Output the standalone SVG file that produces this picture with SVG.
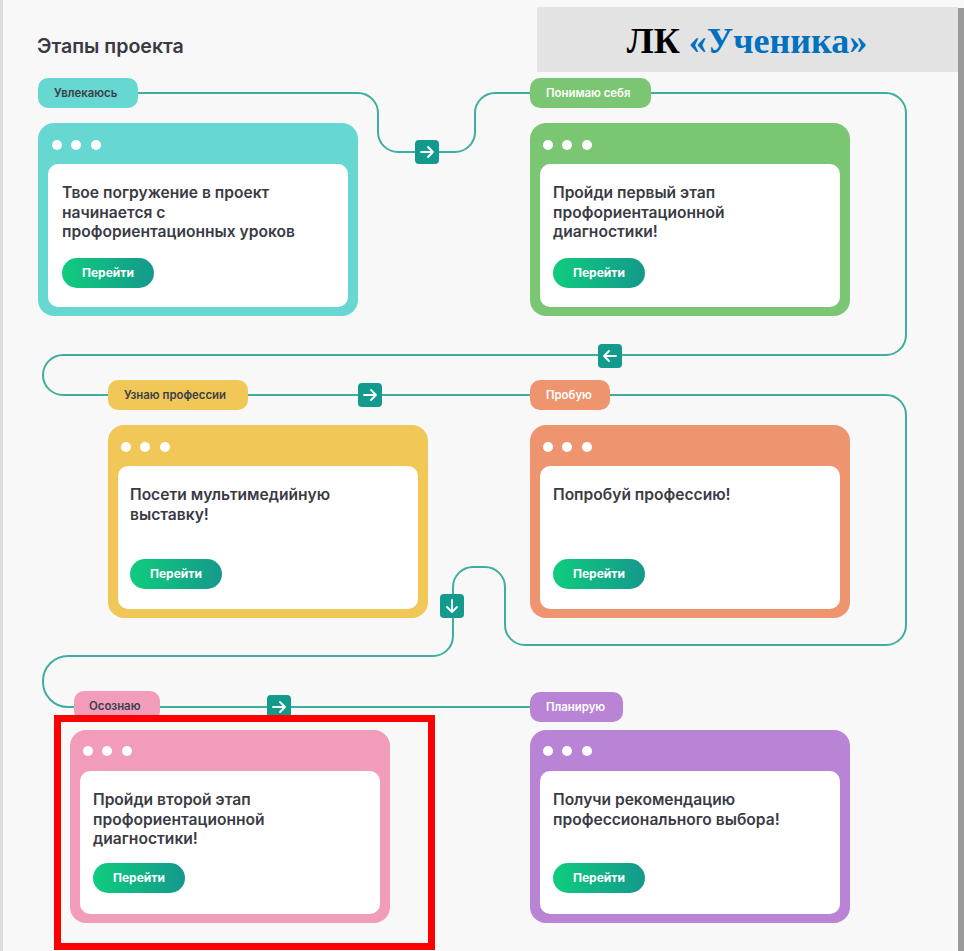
<svg xmlns="http://www.w3.org/2000/svg" width="964" height="951" viewBox="0 0 964 951">
<defs>
<linearGradient id="btn" x1="0" y1="0" x2="1" y2="0">
<stop offset="0" stop-color="#10cc7e"/>
<stop offset="1" stop-color="#14998c"/>
</linearGradient>
<style>
.bg{fill:#f8f8f8}
.title{font-family:Inter,"Noto Sans","Liberation Sans",sans-serif;font-weight:600;font-size:19.6px;fill:#3a3a44}
.hdr{font-family:"Liberation Serif","Times New Roman",serif;font-weight:bold;font-size:36px}
.tag{font-family:Inter,"Noto Sans","Liberation Sans",sans-serif;font-weight:600;font-size:11.4px}
.tdark{fill:#3b4048}
.tlight{fill:#ffffff}
.body{font-family:Inter,"Noto Sans","Liberation Sans",sans-serif;font-weight:600;font-size:15.6px;fill:#3a3a44}
.btxt{font-family:Inter,"Noto Sans","Liberation Sans",sans-serif;font-weight:700;font-size:12px;fill:#ffffff}
.panel{fill:#ffffff}
.dot{fill:#ffffff}
.line{fill:none;stroke:#3fae9f;stroke-width:2}
.abox{fill:#139a8c}
.arr{fill:none;stroke:#ffffff;stroke-width:1.8;stroke-linecap:round;stroke-linejoin:round}
</style>
</defs>
<rect class="bg" x="0" y="0" width="964" height="951"/>
<rect x="0" y="0" width="3" height="951" fill="#dedede"/>
<rect x="958" y="8" width="6" height="943" fill="#9a9a9a"/>

<g id="header">
<rect x="537" y="7" width="421" height="65" fill="#e3e3e3"/>
<text class="hdr" x="747" y="53" text-anchor="middle"><tspan fill="#000000">ЛК </tspan><tspan fill="#0070c0">«Ученика»</tspan></text>
</g>
<text class="title" x="37" y="53">Этапы проекта</text>

<g id="connectors">
<path class="line" d="M138 93 H358 A20 20 0 0 1 378 113 V132 A20 20 0 0 0 398 152 H455 A20 20 0 0 0 475 132 V113 A20 20 0 0 1 495 93 H530"/>
<path class="line" d="M651 93 H886 A20 20 0 0 1 906 113 V335 A20 20 0 0 1 886 355 H63 A20 20 0 0 0 63 395 H108"/>
<path class="line" d="M248 395 H530"/>
<path class="line" d="M610 395 H886 A20 20 0 0 1 906 415 V625 A20 20 0 0 1 886 645 H525 A20 20 0 0 1 505 625 V587 A20 20 0 0 0 485 567 H473 A20 20 0 0 0 453 587 V636 A20 20 0 0 1 433 656 H68 A25 25 0 0 0 43 681 V682 A25 25 0 0 0 68 707 H74"/>
<path class="line" d="M160 707 H530"/>
<g id="arrow1"><rect class="abox" x="415" y="140" width="24" height="24" rx="4"/><path class="arr" d="M421 152 H433 M428 147 L433 152 L428 157"/></g>
<g id="arrow2"><rect class="abox" x="598" y="344" width="24" height="24" rx="4"/><path class="arr" d="M616 356 H604 M609 351 L604 356 L609 361"/></g>
<g id="arrow3"><rect class="abox" x="358" y="383" width="24" height="24" rx="4"/><path class="arr" d="M364 395 H376 M371 390 L376 395 L371 400"/></g>
<g id="arrow4"><rect class="abox" x="440" y="594" width="24" height="24" rx="4"/><path class="arr" d="M452 600 V612 M447 607 L452 612 L457 607"/></g>
<g id="arrow5"><rect class="abox" x="267" y="695" width="24" height="24" rx="4"/><path class="arr" d="M273 707 H285 M280 702 L285 707 L280 712"/></g>
</g>

<g id="tag1"><rect x="38" y="78" width="100" height="30" rx="10" fill="#66d7d1"/><text class="tag tdark" x="54" y="97">Увлекаюсь</text></g>
<g id="tag2"><rect x="530" y="78" width="121" height="30" rx="10" fill="#7bc672"/><text class="tag tlight" x="546" y="97">Понимаю себя</text></g>
<g id="tag3"><rect x="108" y="380" width="140" height="30" rx="10" fill="#f1c757"/><text class="tag tdark" x="124" y="399">Узнаю профессии</text></g>
<g id="tag4"><rect x="530" y="380" width="80" height="30" rx="10" fill="#ee9570"/><text class="tag tlight" x="546" y="399">Пробую</text></g>
<g id="tag5"><rect x="74" y="691" width="86" height="30" rx="10" fill="#f09cba"/><text class="tag tdark" x="89" y="710">Осознаю</text></g>
<g id="tag6"><rect x="530" y="692" width="93" height="30" rx="10" fill="#b983d6"/><text class="tag tlight" x="546" y="711">Планирую</text></g>

<g id="card1">
<rect x="38" y="123" width="320" height="193" rx="16" fill="#66d7d1"/>
<circle class="dot" cx="57" cy="145" r="5"/><circle class="dot" cx="76" cy="145" r="5"/><circle class="dot" cx="96" cy="145" r="5"/>
<rect class="panel" x="48" y="164" width="300" height="143" rx="10"/>
<text class="body" x="62" y="198">Твое погружение в проект</text>
<text class="body" x="62" y="218">начинается с</text>
<text class="body" x="62" y="237">профориентационных уроков</text>
<rect x="62" y="258" width="92" height="30" rx="15" fill="url(#btn)"/>
<text class="btxt" x="108" y="277" text-anchor="middle">Перейти</text>
</g>

<g id="card2">
<rect x="530" y="123" width="320" height="193" rx="16" fill="#7bc672"/>
<circle class="dot" cx="548" cy="145" r="5"/><circle class="dot" cx="567" cy="145" r="5"/><circle class="dot" cx="587" cy="145" r="5"/>
<rect class="panel" x="540" y="164" width="300" height="143" rx="10"/>
<text class="body" x="553" y="198">Пройди первый этап</text>
<text class="body" x="553" y="218">профориентационной</text>
<text class="body" x="553" y="237">диагностики!</text>
<rect x="553" y="258" width="92" height="30" rx="15" fill="url(#btn)"/>
<text class="btxt" x="599" y="277" text-anchor="middle">Перейти</text>
</g>

<g id="card3">
<rect x="108" y="425" width="320" height="193" rx="16" fill="#f1c757"/>
<circle class="dot" cx="126" cy="447" r="5"/><circle class="dot" cx="145" cy="447" r="5"/><circle class="dot" cx="165" cy="447" r="5"/>
<rect class="panel" x="118" y="466" width="300" height="143" rx="10"/>
<text class="body" x="130" y="500">Посети мультимедийную</text>
<text class="body" x="130" y="520">выставку!</text>
<rect x="130" y="559" width="92" height="30" rx="15" fill="url(#btn)"/>
<text class="btxt" x="176" y="578" text-anchor="middle">Перейти</text>
</g>

<g id="card4">
<rect x="530" y="425" width="320" height="193" rx="16" fill="#ee9570"/>
<circle class="dot" cx="548" cy="447" r="5"/><circle class="dot" cx="567" cy="447" r="5"/><circle class="dot" cx="587" cy="447" r="5"/>
<rect class="panel" x="540" y="466" width="300" height="143" rx="10"/>
<text class="body" x="553" y="500">Попробуй профессию!</text>
<rect x="553" y="559" width="92" height="30" rx="15" fill="url(#btn)"/>
<text class="btxt" x="599" y="578" text-anchor="middle">Перейти</text>
</g>

<g id="card5">
<rect x="70" y="730" width="320" height="193" rx="16" fill="#f09cba"/>
<circle class="dot" cx="88" cy="751" r="5"/><circle class="dot" cx="107" cy="751" r="5"/><circle class="dot" cx="127" cy="751" r="5"/>
<rect class="panel" x="80" y="771" width="300" height="143" rx="10"/>
<text class="body" x="93" y="805">Пройди второй этап</text>
<text class="body" x="93" y="825">профориентационной</text>
<text class="body" x="93" y="844">диагностики!</text>
<rect x="93" y="863" width="92" height="30" rx="15" fill="url(#btn)"/>
<text class="btxt" x="139" y="882" text-anchor="middle">Перейти</text>
</g>

<g id="card6">
<rect x="530" y="730" width="320" height="193" rx="16" fill="#b983d6"/>
<circle class="dot" cx="548" cy="751" r="5"/><circle class="dot" cx="567" cy="751" r="5"/><circle class="dot" cx="587" cy="751" r="5"/>
<rect class="panel" x="540" y="771" width="300" height="143" rx="10"/>
<text class="body" x="553" y="805">Получи рекомендацию</text>
<text class="body" x="553" y="825">профессионального выбора!</text>
<rect x="553" y="863" width="92" height="30" rx="15" fill="url(#btn)"/>
<text class="btxt" x="599" y="882" text-anchor="middle">Перейти</text>
</g>

<rect id="highlight" x="57.5" y="718.5" width="374" height="228" fill="none" stroke="#ff0000" stroke-width="7"/>
</svg>
